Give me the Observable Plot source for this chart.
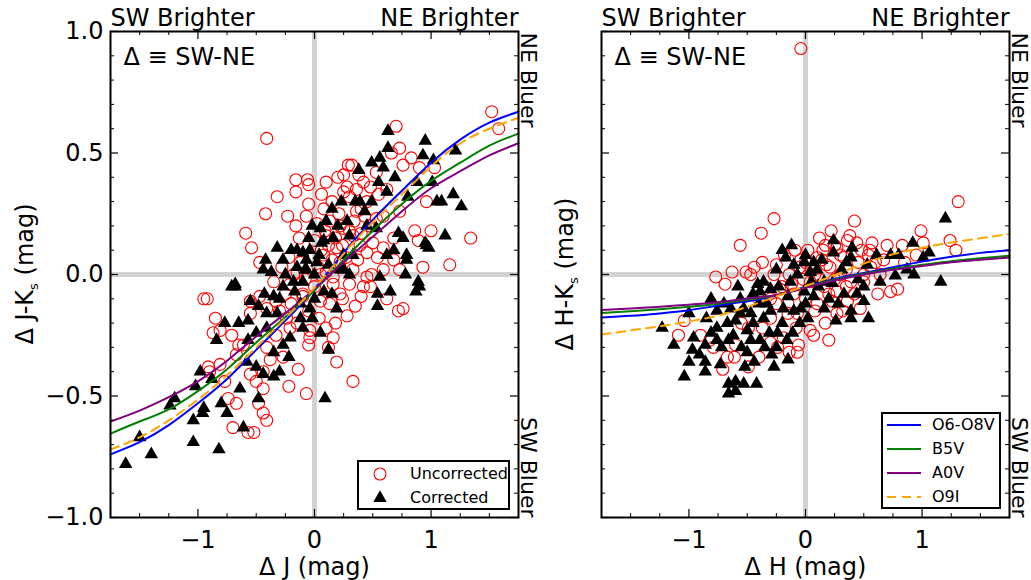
<!DOCTYPE html>
<html><head><meta charset="utf-8">
<script src="https://cdn.jsdelivr.net/npm/d3@7"></script>
<script src="https://cdn.jsdelivr.net/npm/@observablehq/plot@0.6"></script>
<style>
body{margin:0;background:#fff;font-family:"DejaVu Sans",sans-serif;}
#wrap{position:relative;width:1031px;height:580px;overflow:hidden;background:#fff;}
.legend{position:absolute;border:2px solid #000;background:#fff;box-sizing:border-box;font-size:16px;color:#000;}
.legend .sw{position:absolute;}
.legend .lb{position:absolute;line-height:20px;height:20px;white-space:nowrap;}
</style></head>
<body><div id="wrap"></div>
<script>
// ---- axis ticks ----
const xMajor = [-1, 0, 1];
const xMinor = [-1.5, -1.25, -0.75, -0.5, -0.25, 0.25, 0.5, 0.75, 1.25, 1.5];
const yMajor = [-1, -0.5, 0, 0.5, 1];
const yMinor = [-0.9,-0.8,-0.7,-0.6,-0.4,-0.3,-0.2,-0.1,0.1,0.2,0.3,0.4,0.6,0.7,0.8,0.9];

// ---- reddening curves (shared x grid) ----
const curveX = [-1.75,-1.5,-1.25,-1.0,-0.75,-0.5,-0.25,0,0.25,0.5,0.75,1.0,1.25,1.5,1.75];
const jkO6O8V = [-0.74,-0.69,-0.62,-0.53,-0.43,-0.31,-0.19,-0.06,0.09,0.225,0.345,0.46,0.555,0.625,0.67];
const jkB5V   = [-0.655,-0.605,-0.555,-0.48,-0.39,-0.28,-0.175,-0.065,0.06,0.18,0.29,0.385,0.46,0.53,0.58];
const jkA0V   = [-0.605,-0.56,-0.505,-0.44,-0.355,-0.255,-0.16,-0.06,0.05,0.155,0.26,0.355,0.425,0.49,0.54];
const jkO9I   = [-0.72,-0.67,-0.60,-0.515,-0.415,-0.30,-0.18,-0.055,0.085,0.215,0.33,0.445,0.54,0.60,0.645];
const hkO6O8V = [-0.177,-0.17,-0.16,-0.147,-0.128,-0.11,-0.087,-0.05,-0.018,0.006,0.03,0.053,0.073,0.089,0.10];
const hkB5V   = [-0.158,-0.151,-0.143,-0.133,-0.12,-0.104,-0.085,-0.053,-0.022,0.003,0.024,0.04,0.055,0.067,0.077];
const hkA0V   = [-0.146,-0.14,-0.133,-0.124,-0.114,-0.099,-0.084,-0.055,-0.025,0.0,0.02,0.035,0.05,0.061,0.07];
const hkO9I   = [-0.247,-0.23,-0.213,-0.193,-0.169,-0.133,-0.09,-0.047,-0.003,0.045,0.083,0.11,0.132,0.149,0.167];

// ---- Delta J vs Delta J-Ks ----
const jUncorrected = [
[-0.41,0.56],[-0.16,0.39],[-0.06,0.39],[-0.05,0.37],[-0.16,0.34],[-0.32,0.32],[-0.05,0.29],[-0.42,0.25],[-0.23,0.24],[-0.07,0.24],[-0.16,0.20],[-0.59,0.17],[-0.54,0.11],[-0.47,0.05],[0.25,0.41],[0.28,0.36],[0.29,0.45],[0.13,0.22],[0.25,0.19],
[1.52,0.67],[1.58,0.60],[0.70,0.61],[0.73,0.52],[0.83,0.48],[0.90,0.44],[1.03,0.44],[0.96,0.30],[1.00,0.18],[0.86,0.18],[0.89,0.14],[1.34,0.15],[1.16,0.04],[0.93,0.03],[0.73,0.02],[0.59,0.02],[0.32,0.45],[0.42,0.38],[0.53,0.42],[0.62,0.35],[0.73,0.26],[0.66,0.50],[0.76,0.45],[0.45,0.30],[0.53,0.23],[0.59,0.24],[0.25,0.34],[0.30,0.32],[0.36,0.26],[0.22,0.20],[0.33,0.16],[0.45,0.09],[0.39,0.12],[0.19,0.11],[0.10,0.16],[0.59,0.11],[0.68,0.15],[0.08,0.08],[0.22,0.05],[0.33,0.02],[0.45,-0.01],[0.16,-0.01],[0.05,0.00],[0.38,0.41],[0.40,0.27],
[-0.95,-0.10],[-0.92,-0.10],[-0.85,-0.18],[-0.87,-0.24],[-0.81,-0.23],[-0.71,-0.25],[-0.65,-0.29],[-0.55,-0.11],[-0.55,-0.16],[-0.41,-0.14],[-0.30,-0.15],[-0.21,-0.04],[-0.10,-0.09],
[-0.05,-0.29],[-0.14,-0.39],[-0.07,-0.49],[-0.22,-0.46],[-0.44,-0.47],[-0.48,-0.53],[-0.44,-0.57],[-0.41,-0.60],[-0.70,-0.63],[-0.57,-0.65],[-0.52,-0.65],[-0.67,-0.53],[-0.74,-0.51],[-0.77,-0.44],[-0.91,-0.38],[-0.90,-0.40],[-0.81,-0.37],[-0.50,-0.44],[-0.44,-0.40],[-0.55,-0.41],[-0.38,-0.35],[-0.67,-0.33],[-0.61,-0.29],[-0.41,-0.30],[-0.27,-0.34],[-0.33,-0.25],[-0.21,-0.22],[-0.15,-0.20],[-0.04,-0.26],[-0.04,-0.23],[-0.24,-0.18],[-0.33,-0.11],[-0.47,-0.09],
[0.68,0.06],[0.49,0.00],[0.42,-0.05],[0.30,-0.04],[0.40,-0.09],[0.35,-0.13],[0.28,-0.17],[0.62,-0.10],[0.72,-0.15],[0.76,-0.14],[0.16,-0.26],[0.10,-0.22],[0.12,-0.30],[0.19,-0.36],[0.33,-0.44],[0.48,-0.05],[0.16,-0.04],[0.05,-0.11],[0.22,-0.08],[0.10,0.01],[-0.15,0.01],
[-0.28,0.03],[-0.22,0.07],[-0.18,0.00],[-0.12,0.05],[-0.08,-0.02],[-0.03,0.07],[0.00,0.14],[0.03,0.03],[0.06,0.10],[0.09,0.18],[0.12,0.12],[0.15,0.06],[0.18,0.15],[0.21,0.25],[0.24,0.12],[0.27,0.07],[0.30,0.18],[0.34,0.22],[0.37,0.06],[0.40,0.17],[0.43,0.24],[0.47,0.20],[0.50,0.13],[0.54,0.07],[-0.25,-0.08],[-0.20,-0.12],[-0.10,-0.08],[-0.05,-0.15],[0.00,-0.05],[0.04,-0.18],[0.13,-0.12],[0.18,-0.20],[0.24,-0.10],[-0.35,-0.03],[-0.13,0.15],[0.02,0.21],[0.08,0.27],[0.15,0.30],[0.20,0.40],[0.10,0.38],[0.06,0.33],[0.36,0.35],[0.48,0.36],[0.55,0.33]
];
const jCorrected = [
[0.23,0.30],[0.15,0.27],[-0.02,0.20],[0.05,0.19],[0.16,0.15],[0.06,0.13],[-0.04,0.10],[-0.32,0.11],[-0.42,0.06],[-0.27,0.06],[-0.44,0.02],[-0.37,0.01],[-0.07,0.02],[0.02,0.05],[-0.68,-0.04],[0.25,0.02],[-0.10,0.09],
[0.63,0.59],[0.95,0.55],[0.63,0.52],[0.56,0.48],[0.49,0.46],[0.59,0.44],[0.93,0.49],[1.02,0.47],[1.21,0.51],[0.38,0.43],[0.69,0.40],[0.55,0.38],[0.88,0.38],[1.01,0.38],[0.62,0.34],[0.80,0.32],[1.19,0.33],[1.05,0.30],[1.09,0.30],[1.26,0.28],[0.49,0.30],[0.35,0.30],[0.43,0.26],[0.39,0.30],[0.53,0.19],[0.72,0.17],[0.76,0.15],[0.95,0.13],[0.98,0.11],[1.12,0.16],[0.68,0.10],[0.62,0.08],[0.79,0.08],[0.78,0.00],[0.89,-0.03],[0.56,-0.01],[0.33,0.08],[0.30,0.16],[0.45,0.20],
[-0.68,-0.05],[-0.71,-0.05],[-0.43,-0.08],[-0.35,-0.09],[-0.27,-0.05],[-0.18,-0.03],[0.08,-0.07],[0.15,-0.08],[-0.55,-0.11],[-0.48,-0.13],[-0.41,-0.16],[-0.32,-0.16],[-0.77,-0.20],[-0.65,-0.20],[-0.57,-0.19],[-0.84,-0.27],[-0.50,-0.24],[-0.41,-0.22],[-0.57,-0.27],[-0.21,-0.26],[-0.10,-0.22],[-0.02,-0.18],[0.05,-0.24],[0.12,-0.31],[-0.27,-0.29],[-0.35,-0.32],[-0.22,-0.34],[-0.44,-0.41],[-0.35,-0.42],[-0.30,-0.40],[-0.58,-0.36],[-0.50,-0.38],[-0.98,-0.40],[-1.02,-0.46],[-0.88,-0.43],[-0.64,-0.47],[-0.48,-0.51],[-0.80,-0.53],[-0.75,-0.57],[-0.95,-0.55],[-0.96,-0.57],[-1.20,-0.51],[-1.24,-0.54],[-1.04,-0.60],[-0.61,-0.63],[-1.50,-0.67],[-1.40,-0.74],[-1.62,-0.78],[-1.04,-0.69],[-0.82,-0.72],[0.09,-0.51],[-0.04,-0.14],[-0.12,-0.18],
[0.79,0.06],[0.96,0.12],[0.90,-0.05],[0.87,-0.07],[0.65,-0.07],[0.54,-0.08],[0.54,-0.13],[0.19,-0.14],[-0.15,0.10],[-0.07,0.06],[-0.08,0.02],[0.25,0.08],[0.22,0.02],[-0.17,-0.07],[0.08,0.14],
[-0.25,0.00],[-0.20,0.10],[-0.15,0.03],[-0.10,-0.03],[-0.05,0.15],[0.00,0.00],[0.04,0.08],[0.10,0.22],[0.12,0.04],[0.20,0.20],[0.28,0.22],[-0.30,-0.10],[-0.12,-0.12],[0.00,-0.10],[0.30,0.00]
];

// ---- Delta H vs Delta H-Ks ----
const hUncorrected = [
[-0.04,0.93],[1.31,0.30],[-0.27,0.23],[-0.38,0.17],[-0.56,0.12],[0.42,0.22],[0.99,0.18],[1.01,0.13],[1.24,0.14],[1.29,0.10],[0.83,0.12],[0.57,0.13],[0.38,0.16],[0.44,0.13],[0.17,0.12],[-0.09,0.10],[-0.37,0.05],[-0.63,0.01],[-0.77,-0.01],[-0.69,-0.04],[-0.51,0.01],[-0.44,0.03],[-0.47,0.00],[-0.27,0.00],[0.54,0.08],[0.67,0.06],[0.73,-0.07],[0.79,-0.06],[0.47,-0.14],[0.27,-0.16],[0.20,-0.27],[0.17,-0.20],[0.07,-0.25],[0.04,-0.23],[-0.06,-0.29],[-0.14,-0.32],[-0.07,-0.32],[-0.49,-0.38],[-0.40,-0.34],[-0.61,-0.34],[-0.71,-0.39],[-0.79,-0.30],[-0.90,-0.25],[-1.09,-0.25],[-1.04,-0.19],[-0.60,-0.29],[-0.82,-0.27],[-0.49,-0.22],[-0.37,-0.22],[-0.30,-0.18],[-0.19,-0.26],[-0.24,-0.30],[0.39,-0.03],[0.21,0.03],[0.33,0.07],[0.10,0.07],[-0.04,0.06],[-0.14,0.00],[0.04,-0.03],[0.16,-0.05],[0.27,-0.07],[0.50,-0.03],[0.64,0.00],[0.56,0.03],[0.27,0.11],[0.36,0.14],[0.14,0.06],[0.10,-0.12],[0.23,-0.11],[0.36,-0.11],[-0.07,-0.16],[-0.67,-0.34],[-0.15,-0.16],
[-0.20,-0.05],[-0.10,-0.08],[0.00,-0.10],[0.05,0.02],[0.12,-0.02],[0.20,-0.08],[0.30,0.00],[0.35,-0.05],[0.45,0.05],[-0.25,0.04],[-0.05,0.03],[0.15,0.10],[0.25,0.12],[0.08,-0.15],[-0.15,-0.12],[0.30,0.08],[0.50,0.00],[0.55,0.10],[0.02,0.10],[-0.30,-0.10],
[-0.35,-0.05],[-0.25,-0.12],[-0.12,-0.04],[-0.02,-0.02],[0.08,0.00],[0.18,0.04],[0.25,-0.02],[0.32,-0.15],[0.42,-0.08],[0.48,0.10],[0.60,0.05],[0.12,0.15],[-0.18,0.08],[-0.40,-0.10],[-0.55,-0.20],[-0.30,-0.28],[0.00,0.05],[0.22,0.18],[-0.08,-0.22],[0.35,0.02],[0.62,-0.08],[0.70,0.12],[0.85,0.05],[0.95,0.08],[-0.22,-0.06]
];
const hCorrected = [
[1.20,0.23],[1.16,-0.03],[0.92,0.13],[1.06,0.09],[1.01,0.07],[0.93,0.00],[0.87,0.02],[0.73,0.08],[0.80,0.08],[0.61,0.08],[0.77,-0.005],[0.64,-0.03],[0.53,0.04],[0.54,-0.18],[0.39,-0.18],[0.26,-0.19],[0.24,0.14],[0.40,0.11],[0.24,0.09],[0.39,0.07],[0.31,0.02],[0.50,-0.05],[0.44,-0.08],[0.50,-0.11],[0.33,-0.08],[0.39,-0.15],[0.14,0.06],[0.07,0.05],[-0.01,0.05],[-0.10,0.04],[-0.17,0.07],[-0.07,0.00],[-0.13,-0.03],[-0.36,-0.03],[-0.39,-0.07],[-0.23,-0.05],[-0.56,-0.10],[-0.81,-0.10],[-1.00,-0.16],[-1.23,-0.22],[-1.13,-0.29],[-0.97,-0.31],[-0.96,-0.26],[-0.91,-0.33],[-1.04,-0.42],[-0.86,-0.36],[-0.86,-0.40],[-0.73,-0.37],[-0.66,-0.45],[-0.60,-0.44],[-0.53,-0.45],[-0.66,-0.49],[-0.60,-0.48],[-0.81,-0.24],[-0.86,-0.29],[-0.76,-0.22],[-0.67,-0.20],[-0.66,-0.27],[-0.56,-0.16],[-0.50,-0.23],[-0.47,-0.27],[-0.44,-0.36],[-0.50,-0.32],[-0.39,-0.27],[-0.27,-0.38],[-0.29,-0.33],[-0.31,-0.24],[-0.24,-0.24],[-0.16,-0.27],[-0.11,-0.24],[-0.36,-0.18],[-0.47,-0.16],[-0.53,-0.14],[-0.33,-0.12],[-0.19,-0.14],[-0.04,-0.14],[0.07,-0.09],[0.16,-0.14],[0.11,-0.05],[-0.01,-0.07],[-0.15,-0.09],[-0.45,-0.08],[-0.41,-0.04],[-0.64,-0.14],[-0.60,-0.19],[-0.76,-0.15],[0.16,-0.03],[0.23,-0.035],[0.04,0.01],[-0.76,-0.27],[-1.00,-0.36],
[-0.70,-0.12],[-0.62,-0.25],[-0.55,-0.30],[-0.45,-0.20],[-0.40,-0.12],[-0.35,-0.30],[-0.30,-0.15],[-0.25,-0.30],[-0.20,-0.20],[-0.15,-0.35],[-0.10,-0.15],[-0.05,-0.20],[0.00,-0.12],[0.05,-0.03],[0.10,0.02],[0.20,-0.10],[0.28,-0.12],[-0.25,0.02],[-0.30,-0.06],[-0.20,0.10],[0.00,0.08],[-0.52,-0.38],[-0.72,-0.30],[-0.58,-0.05],[-0.85,-0.18],[0.45,-0.02],[0.35,0.05],[-0.12,0.12],[0.02,-0.18],[-0.42,-0.45]
];

// ---- labels ----
const topLeftLabel = "SW Brighter", topRightLabel = "NE Brighter";
const rightTopLabel = "NE Bluer", rightBottomLabel = "SW Bluer";
const defLabel = "Δ ≡ SW-NE";
const seriesNames = ["Uncorrected", "Corrected"];
const curveNames = ["O6-O8V", "B5V", "A0V", "O9I"];
const curveColors = ["#0000ff", "#008000", "#800080", "#ffa500"];

const FH = 486, FW = 408, FS = 24;

function panel({uncorr, corr, curves, yTicks, xLabel, marginLeft, width}) {
  const marks = [
    Plot.ruleX([0], {stroke: "#d3d3d3", strokeWidth: 5}),
    Plot.ruleY([0], {stroke: "#d3d3d3", strokeWidth: 5}),
    Plot.dot(uncorr, {x: d => d[0], y: d => d[1], r: 6, stroke: "#ff0000", fill: "none", strokeWidth: 1.1}),
    Plot.dot(corr, {x: d => d[0], y: d => d[1], r: 5, symbol: "triangle", fill: "black"}),
    ...curves.map((ys, k) => Plot.line(curveX, {x: d => d, y: (d, i) => ys[i], curve: "natural",
      stroke: curveColors[k], strokeWidth: 2, strokeDasharray: k === 3 ? "9,6" : null})),
    Plot.tickX(xMajor, {x: d => d, stroke: "black", strokeWidth: 1.2, insetTop: FH - 8}),
    Plot.tickX(xMajor, {x: d => d, stroke: "black", strokeWidth: 1.2, insetBottom: FH - 8}),
    Plot.tickX(xMinor, {x: d => d, stroke: "black", strokeWidth: 1, insetTop: FH - 4}),
    Plot.tickX(xMinor, {x: d => d, stroke: "black", strokeWidth: 1, insetBottom: FH - 4}),
    Plot.tickY(yMajor, {y: d => d, stroke: "black", strokeWidth: 1.2, insetRight: FW - 8}),
    Plot.tickY(yMajor, {y: d => d, stroke: "black", strokeWidth: 1.2, insetLeft: FW - 8}),
    Plot.tickY(yMinor, {y: d => d, stroke: "black", strokeWidth: 1, insetRight: FW - 4}),
    Plot.tickY(yMinor, {y: d => d, stroke: "black", strokeWidth: 1, insetLeft: FW - 4}),
    Plot.frame({stroke: "black", strokeWidth: 2}),
    Plot.axisX(xMajor, {tickSize: 0, tickPadding: 13, tickFormat: d3.format("d"), label: null, fontSize: FS}),
    Plot.text([topLeftLabel], {text: d => d, frameAnchor: "top-left", textAnchor: "start", lineAnchor: "bottom", dy: -5.5, fontSize: FS}),
    Plot.text([topRightLabel], {text: d => d, frameAnchor: "top-right", textAnchor: "end", lineAnchor: "bottom", dy: -5.5, fontSize: FS}),
    Plot.text([defLabel], {text: d => d, frameAnchor: "top-left", textAnchor: "start", lineAnchor: "bottom", dx: 13, dy: 33, fontSize: FS}),
    Plot.text([rightTopLabel], {text: d => d, frameAnchor: "top-right", rotate: 90, textAnchor: "start", lineAnchor: "bottom", dx: 2, dy: 1, fontSize: 22}),
    Plot.text([rightBottomLabel], {text: d => d, frameAnchor: "bottom-right", rotate: 90, textAnchor: "end", lineAnchor: "bottom", dx: 2, fontSize: 22}),
    Plot.text([xLabel], {text: d => d, frameAnchor: "bottom", lineAnchor: "middle", dy: 49.5, fontSize: FS})
  ];
  if (yTicks) marks.push(Plot.axisY(yMajor, {tickSize: 0, tickPadding: 7, tickFormat: d3.format(".1f"), label: null, fontSize: FS}));
  return Plot.plot({
    width, height: 580, marginLeft, marginRight: 22, marginTop: 31, marginBottom: 63,
    x: {domain: [-1.75, 1.75]},
    y: yTicks ? {domain: [-1, 1]} : {domain: [-1, 1], axis: null},
    style: {fontFamily: "DejaVu Sans", fontSize: FS + "px", background: "transparent", overflow: "visible", color: "black"},
    marks
  });
}

function yLabel(svg, main, sub, rest) {
  const t = d3.select(svg).append("text")
    .attr("transform", "translate(33,274) rotate(-90)")
    .attr("text-anchor", "middle").attr("font-size", FS).attr("fill", "black")
    .attr("font-family", "DejaVu Sans");
  t.append("tspan").text(main);
  t.append("tspan").attr("font-size", 13).attr("dy", 5).text(sub);
  t.append("tspan").attr("dy", -5).text(rest);
}

const wrap = document.getElementById("wrap");
const left = panel({uncorr: jUncorrected, corr: jCorrected, curves: [jkO6O8V, jkB5V, jkA0V, jkO9I],
  yTicks: true, xLabel: "Δ J (mag)", marginLeft: 110, width: 540});
const right = panel({uncorr: hUncorrected, corr: hCorrected, curves: [hkO6O8V, hkB5V, hkA0V, hkO9I],
  yTicks: false, xLabel: "Δ H (mag)", marginLeft: 61, width: 491});
yLabel(left, "Δ J-K", "s", " (mag)");
yLabel(right, "Δ H-K", "s", " (mag)");
for (const [svg, x] of [[left, 0], [right, 540]]) {
  svg.style.position = "absolute"; svg.style.left = x + "px"; svg.style.top = "0px";
  svg.style.maxWidth = "none";
  wrap.appendChild(svg);
}

// ---- legends (HTML) ----
function legend(box, items) {
  const div = document.createElement("div");
  div.className = "legend";
  Object.assign(div.style, {left: box.left + "px", top: box.top + "px", width: box.w + "px", height: box.h + "px"});
  for (const it of items) {
    const s = d3.create("svg").attr("class", "sw").attr("width", 34).attr("height", 20)
      .style("left", (it.sx - 17) + "px").style("top", (it.cy - 10) + "px");
    it.draw(s);
    div.appendChild(s.node());
    const l = document.createElement("div");
    l.className = "lb"; l.textContent = it.label;
    l.style.left = box.tx + "px"; l.style.top = (it.cy - 10) + "px";
    div.appendChild(l);
  }
  wrap.appendChild(div);
}
legend({left: 357, top: 460, w: 153, h: 50, tx: 51}, [
  {label: seriesNames[0], sx: 21, cy: 12, draw: s => s.append("circle").attr("cx", 17).attr("cy", 10).attr("r", 6).attr("fill", "none").attr("stroke", "#ff0000").attr("stroke-width", 1.1)},
  {label: seriesNames[1], sx: 21, cy: 36, draw: s => s.append("path").attr("transform", "translate(17,10)").attr("d", d3.symbol(d3.symbolTriangle, Math.PI * 25)()).attr("fill", "black")}
]);
legend({left: 881, top: 412, w: 120, h: 97, tx: 49}, curveNames.map((n, k) => ({
  label: n, sx: 20.5, cy: 11 + 24 * k,
  draw: s => s.append("line").attr("x1", 0).attr("x2", 34).attr("y1", 10).attr("y2", 10)
    .attr("stroke", curveColors[k]).attr("stroke-width", 2).attr("stroke-dasharray", k === 3 ? "9,6" : null)
})));
</script></body></html>
